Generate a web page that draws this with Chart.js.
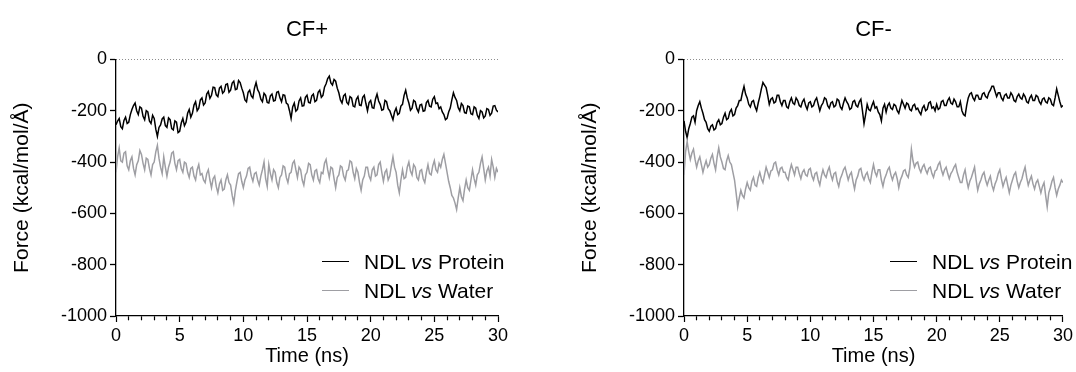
<!DOCTYPE html>
<html>
<head>
<meta charset="utf-8">
<script src="https://cdn.jsdelivr.net/npm/chart.js@4.4.1/dist/chart.umd.min.js"></script>
<style>
  body { margin: 0; background: #fff; }
  #wrap { position: relative; width: 1076px; height: 372px; overflow: hidden; font-family: "Liberation Sans", Arial, sans-serif; }
  canvas { position: absolute; top: 0; }
  .legend { position: absolute; font-size: 21px; color: #000; }
  .legend .row { position: absolute; white-space: nowrap; height: 24px; line-height: 24px; }
  .legend .swatch { position: absolute; top: 11px; width: 27px; height: 0; border-top: 1.5px solid #000; }
  .legend .label { position: absolute; left: 42px; top: 0; }
</style>
</head>
<body>
<div id="wrap">
  <canvas id="chartLeft" width="538" height="372" style="left:0"></canvas>
  <canvas id="chartRight" width="538" height="372" style="left:538px"></canvas>
  <div class="legend" id="legendLeft" style="left:322px; top:250px"></div>
  <div class="legend" id="legendRight" style="left:890px; top:250px"></div>
</div>
<script>
// Data: time axis 0..30 ns every 0.125 ns (one row of values = 1 ns)
const timeNs = [];
for (let i = 0; i <= 240; i++) timeNs.push(i / 8);

const panelTitles = ['CF+', 'CF-'];
const seriesNames = ['NDL vs Protein', 'NDL vs Water'];
const seriesColors = ['#000000', '#9e9ea3'];
const yTicks = [0, -200, -400, -600, -800, -1000];
const xTicks = [0, 5, 10, 15, 20, 25, 30];

// CF+ : NDL vs Protein
const cfPlusProtein = [
  -255, -240, -230, -262, -270, -238, -225, -250,
  -245, -215, -195, -180, -170, -200, -215, -185,
  -190, -222, -235, -200, -205, -240, -250, -218,
  -230, -272, -300, -265, -255, -232, -225, -258,
  -265, -228, -235, -270, -275, -240, -245, -285,
  -280, -248, -230, -258, -245, -210, -195, -225,
  -210, -178, -165, -200, -190, -158, -150, -178,
  -170, -135, -125, -152, -140, -108, -110, -138,
  -145, -112, -105, -132, -125, -98, -95, -128,
  -120, -92, -85, -118, -115, -82, -90, -112,
  -130, -158, -165, -128, -120, -142, -150, -112,
  -90, -118, -130, -155, -165, -132, -140, -168,
  -170, -142, -135, -162, -160, -128, -125, -150,
  -165, -138, -140, -170, -175, -200, -230, -185,
  -170, -202, -195, -162, -150, -182, -180, -148,
  -140, -168, -170, -142, -135, -165, -160, -128,
  -120, -148, -140, -108, -95, -75, -65, -92,
  -100, -78, -85, -112, -130, -158, -170, -142,
  -135, -168, -175, -145, -150, -182, -185, -155,
  -145, -178, -180, -148, -140, -172, -200, -168,
  -160, -188, -190, -155, -135, -162, -175, -198,
  -195, -160, -165, -192, -200, -218, -235, -205,
  -190, -215, -210, -182, -175, -140, -120, -150,
  -170, -198, -190, -160, -165, -192, -205, -178,
  -175, -202, -200, -168, -160, -182, -185, -155,
  -145, -172, -170, -192, -185, -205, -215, -235,
  -230, -205, -190, -158, -130, -148, -160, -188,
  -200, -172, -180, -208, -210, -182, -185, -212,
  -215, -185, -190, -218, -230, -200, -205, -228,
  -220, -192, -195, -218, -210, -182, -180, -198,
  -205
];

// CF+ : NDL vs Water
const cfPlusWater = [
  -440, -380, -345, -395, -400, -365, -360, -415,
  -430, -395, -380, -425, -450, -410, -395, -355,
  -370, -405, -430, -385, -390, -425, -450, -410,
  -400, -360, -335, -385, -420, -445, -380, -420,
  -455, -420, -400, -365, -360, -405, -430, -395,
  -390, -425, -440, -400, -405, -440, -460, -425,
  -420, -455, -470, -430, -410, -450, -445, -470,
  -480, -445, -430, -470, -500, -465, -455, -495,
  -520, -485, -470, -510, -505, -470, -450, -480,
  -490, -530, -560, -510, -475, -445, -440, -475,
  -500, -470, -455, -425, -420, -455, -475, -445,
  -440, -470, -490, -455, -430, -400, -465, -495,
  -410, -445, -470, -430, -440, -480, -500, -460,
  -450, -415, -420, -460, -480, -445, -440, -405,
  -395, -430, -460, -420, -430, -470, -490, -450,
  -440, -405, -410, -450, -470, -435, -430, -465,
  -480, -440, -445, -405, -390, -430, -460, -420,
  -425, -465, -500, -460, -450, -415, -420, -455,
  -470, -435, -430, -395, -400, -440, -465, -425,
  -440, -480, -510, -470, -455, -420, -420, -455,
  -470, -430, -420, -455, -450, -410, -400, -440,
  -475, -440, -430, -470, -455, -415, -380, -420,
  -440, -490, -520, -470, -430, -465, -460, -420,
  -400, -435, -450, -410, -420, -460, -470, -435,
  -430, -465, -480, -440, -410, -445, -450, -415,
  -395, -430, -440, -405, -420, -390, -370, -405,
  -440, -475, -500, -530, -540, -560, -585, -540,
  -500, -535, -550, -505, -470, -500, -510, -470,
  -430, -465, -490, -450, -440, -405, -380, -425,
  -470, -435, -420, -455, -390, -420, -460, -425,
  -440
];

// CF- : NDL vs Protein
const cfMinusProtein = [
  -240, -280, -305, -270, -250, -225, -220, -245,
  -200, -180, -165, -190, -210, -235, -245, -270,
  -280, -260, -255, -275, -270, -245, -235, -255,
  -250, -225, -210, -235, -230, -205, -195, -220,
  -215, -190, -180, -160, -160, -130, -105, -135,
  -150, -175, -185, -165, -160, -185, -200, -170,
  -145, -115, -90, -100, -110, -140, -175, -155,
  -150, -170, -165, -140, -140, -165, -180, -160,
  -160, -185, -190, -165, -150, -170, -175, -150,
  -160, -180, -185, -165, -155, -180, -195, -170,
  -165, -185, -180, -160, -150, -175, -200, -180,
  -170, -150, -155, -180, -190, -170, -165, -185,
  -180, -155, -160, -185, -195, -170, -150, -165,
  -175, -195, -190, -165, -160, -180, -185, -165,
  -155, -200, -250, -215, -175, -195, -200, -180,
  -165, -190, -185, -205, -215, -240, -190, -175,
  -205, -180, -170, -190, -195, -175, -180, -200,
  -210, -185, -160, -175, -190, -170, -175, -195,
  -200, -180, -175, -195, -190, -205, -215, -190,
  -180, -200, -195, -170, -165, -190, -185, -200,
  -175, -195, -190, -165, -160, -180, -180, -160,
  -150, -170, -175, -155, -165, -185, -185, -165,
  -200, -215, -220, -180, -150, -135, -130, -150,
  -160, -140, -140, -155, -155, -135, -130, -145,
  -150, -130, -120, -105, -105, -125, -145, -130,
  -130, -150, -160, -140, -135, -150, -150, -130,
  -140, -160, -165, -145, -135, -150, -155, -135,
  -145, -165, -170, -150, -140, -160, -160, -140,
  -145, -165, -175, -155, -150, -165, -170, -150,
  -155, -175, -180, -150, -115, -140, -165, -185,
  -180
];

// CF- : NDL vs Water
const cfMinusWater = [
  -450, -360, -320, -360, -390, -365, -350, -390,
  -420, -395, -380, -410, -440, -415, -395, -420,
  -410, -385, -370, -405, -430, -380, -345, -380,
  -400, -425, -430, -395, -375, -400, -410, -440,
  -470, -520, -575, -540, -510, -530, -540, -505,
  -480, -500, -510, -475, -460, -490, -495, -460,
  -440, -465, -480, -450, -420, -440, -460, -435,
  -430, -405, -400, -430, -450, -425, -420, -440,
  -440, -460, -470, -435, -410, -430, -450, -420,
  -420, -445, -465, -440, -430, -450, -455, -430,
  -425, -455, -470, -445, -440, -470, -490, -455,
  -430, -450, -460, -435, -420, -450, -470, -445,
  -440, -475, -495, -465, -450, -430, -420, -445,
  -470, -450, -440, -475, -505, -470, -455, -430,
  -425, -455, -470, -450, -440, -465, -480, -440,
  -410, -440, -455, -430, -430, -470, -495, -465,
  -450, -430, -420, -450, -470, -450, -440, -465,
  -500, -470, -455, -435, -430, -450, -460, -425,
  -350, -395, -420, -405, -400, -425, -440, -420,
  -410, -430, -445, -425, -420, -445, -460, -435,
  -430, -410, -400, -430, -450, -430, -420, -445,
  -465, -445, -435, -420, -410, -440, -460, -480,
  -480, -450, -430, -470, -500, -475, -460, -440,
  -420, -470, -510, -485, -470, -450, -440, -470,
  -490, -470, -455, -490, -510, -485, -470, -445,
  -430, -465, -495, -475, -460, -490, -520, -490,
  -470, -450, -440, -475, -500, -480, -465, -440,
  -420, -460, -490, -470, -455, -485, -505, -480,
  -470, -495, -520, -495, -480, -530, -575, -520,
  -500, -475, -460, -500, -530, -505, -490, -470,
  -480
];

const FONT = '"Liberation Sans", Arial, sans-serif';

function toPoints(values) {
  return values.map((v, i) => ({ x: timeNs[i], y: v }));
}

function buildChart(canvasId, title, protein, water, padLeft, padRight) {
  const ctx = document.getElementById(canvasId).getContext('2d');
  return new Chart(ctx, {
    type: 'line',
    data: {
      datasets: [
        {
          label: seriesNames[1],
          data: toPoints(water),
          borderColor: seriesColors[1],
          borderWidth: 1.5,
          pointRadius: 0,
          tension: 0
        },
        {
          label: seriesNames[0],
          data: toPoints(protein),
          borderColor: seriesColors[0],
          borderWidth: 1.5,
          pointRadius: 0,
          tension: 0
        },
        {
          // dotted zero line
          label: 'zero',
          data: [{ x: xTicks[0], y: 0 }, { x: xTicks[xTicks.length - 1], y: 0 }],
          borderColor: '#000',
          borderWidth: 1,
          borderDash: [1, 2],
          pointRadius: 0
        }
      ]
    },
    options: {
      responsive: false,
      animation: false,
      layout: { padding: { left: padLeft, right: padRight, top: 0, bottom: 0 } },
      plugins: {
        legend: { display: false },
        tooltip: { enabled: false },
        title: {
          display: true,
          text: title,
          fullSize: false,
          color: '#000',
          font: { family: FONT, size: 22, weight: 'normal' },
          padding: { top: 17, bottom: 16 }
        }
      },
      scales: {
        x: {
          type: 'linear',
          min: 0,
          max: 30,
          afterFit: (scale) => { scale.height = 56; },
          ticks: {
            stepSize: 1,
            maxTicksLimit: 100,
            autoSkip: false,
            maxRotation: 0,
            padding: 3,
            color: '#000',
            font: { family: FONT, size: 18 },
            callback: (v) => (xTicks.includes(v) ? String(v) : '')
          },
          grid: {
            drawOnChartArea: false,
            tickLength: 6,
            tickColor: '#000',
            tickWidth: 1.2,
            tickBorderDash: (c) => (c.tick && xTicks.includes(c.tick.value) ? [] : [4, 20])
          },
          border: { display: true, color: '#000', width: 1.3 },
          title: {
            display: true,
            text: 'Time (ns)',
            color: '#000',
            font: { family: FONT, size: 20 },
            padding: { top: 0, bottom: 4 }
          }
        },
        y: {
          min: -1000,
          max: 0,
          afterFit: (scale) => { scale.width = 110; },
          ticks: {
            stepSize: 200,
            padding: 3,
            color: '#000',
            font: { family: FONT, size: 18 },
            callback: (v) => (yTicks.includes(v) ? String(v) : '')
          },
          grid: {
            drawOnChartArea: false,
            tickLength: 6,
            tickColor: '#000',
            tickWidth: 1.3
          },
          border: { display: true, color: '#000', width: 1.3 },
          title: {
            display: true,
            text: 'Force (kcal/mol/Å)',
            color: '#000',
            font: { family: FONT, size: 21 },
            padding: { top: 4, bottom: 4 }
          }
        }
      }
    }
  });
}

function buildLegend(id) {
  const el = document.getElementById(id);
  seriesNames.forEach((name, i) => {
    const row = document.createElement('div');
    row.className = 'row';
    row.style.top = (i * 29) + 'px';
    const sw = document.createElement('div');
    sw.className = 'swatch';
    sw.style.borderTopColor = seriesColors[i];
    const lab = document.createElement('span');
    lab.className = 'label';
    lab.innerHTML = name.replace(' vs ', ' <i>vs</i> ');
    row.appendChild(sw);
    row.appendChild(lab);
    el.appendChild(row);
  });
}

buildChart('chartLeft', panelTitles[0], cfPlusProtein, cfPlusWater, 6, 40);
buildChart('chartRight', panelTitles[1], cfMinusProtein, cfMinusWater, 36, 10);
buildLegend('legendLeft');
buildLegend('legendRight');
</script>
</body>
</html>
